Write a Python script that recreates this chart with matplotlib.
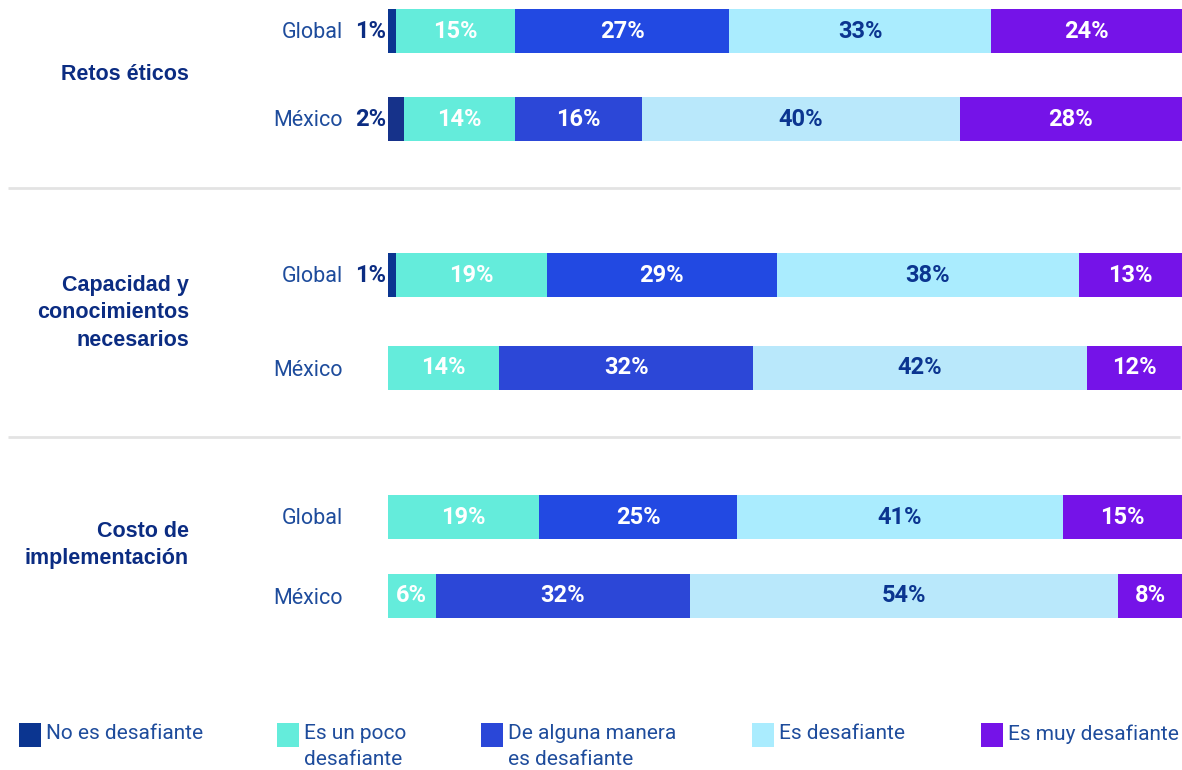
import matplotlib
matplotlib.use("Agg")
import matplotlib.pyplot as plt
from matplotlib.patches import Rectangle
import numpy as np

plt.rcParams['font.family'] = ['Roboto', 'DejaVu Sans']

# ---------------- data ----------------
groups = ["Retos éticos", "Capacidad y\nconocimientos\nnecesarios", "Costo de\nimplementación"]
regions = ["Global", "México"]
categories = ["No es desafiante", "Es un poco desafiante", "De alguna manera es desafiante",
              "Es desafiante", "Es muy desafiante"]
legend_labels = ["No es desafiante", "Es un poco\ndesafiante", "De alguna manera\nes desafiante",
                 "Es desafiante", "Es muy desafiante"]

retos_global = [1, 15, 27, 33, 24]
retos_mexico = [2, 14, 16, 40, 28]
capacidad_global = [1, 19, 29, 38, 13]
capacidad_mexico = [0, 14, 32, 42, 12]
costo_global = [0, 19, 25, 41, 15]
costo_mexico = [0, 6, 32, 54, 8]

rows = [retos_global, retos_mexico, capacidad_global, capacidad_mexico, costo_global, costo_mexico]
row_regions = ["Global", "México", "Global", "México", "Global", "México"]

# ---------------- style ----------------
W, H = 1182, 770
colors_global = ["#0b3590", "#64ecdb", "#2249e2", "#aaecfe", "#7513e8"]
colors_mexico = ["#16328a", "#64ecdb", "#2c47d7", "#b9e8fb", "#7513e8"]
legend_colors = ["#0b3590", "#64ecdb", "#2a47d8", "#aaecfe", "#7513e8"]
text_colors = ["white", "white", "white", "#0b3590", "white"]
navy = "#0b2c82"
label_blue = "#1e4c9c"

row_y = [31, 119, 275, 368, 517, 596]     # bar centres in pixels (layout)
bar_h = 44
group_y = [74, 313, 545]
sep_y = [188, 437]
bar_left_px = 388

fig = plt.figure(figsize=(W / 100, H / 100), dpi=100)
ax = fig.add_axes([bar_left_px / W, 0, (W - bar_left_px) / W, 1])
ax.set_xlim(0, 100)
ax.set_ylim(H, 0)
ax.axis("off")

ov = fig.add_axes([0, 0, 1, 1], zorder=5)
ov.set_xlim(0, W)
ov.set_ylim(H, 0)
ov.axis("off")
ov.patch.set_alpha(0)

for vals, y, reg in zip(rows, row_y, row_regions):
    cols = colors_global if reg == "Global" else colors_mexico
    left = 0
    for i, v in enumerate(vals):
        if v > 0:
            ax.barh(y, v, left=left, height=bar_h, color=cols[i], linewidth=0)
            if v >= 4:
                ax.text(left + v / 2, y, f"{v}%", ha="center", va="center",
                        fontsize=17, fontweight="bold", color=text_colors[i])
            else:
                ax.text(left - 0.25, y, f"{v}%", ha="right", va="center",
                        fontsize=17, fontweight="bold", color=navy)
        left += v
    ov.text(343, y + 2, reg, ha="right", va="center", fontsize=15.5, color=label_blue)

for g, y in zip(groups, group_y):
    ov.text(189, y, g, ha="right", va="center", fontsize=15.5, fontweight="bold",
            color=navy, linespacing=1.42, family=["Liberation Sans", "DejaVu Sans"])

for y in sep_y:
    ov.plot([8, 1180], [y, y], color="#e3e3e3", linewidth=2, solid_capstyle="butt")

legend_x = [19, 277, 481, 752, 981]
for x, lab, c in zip(legend_x, legend_labels, legend_colors):
    ov.add_patch(Rectangle((x, 723), 22, 24, color=c, linewidth=0))
    ov.text(x + 27, 724, lab, ha="left", va="top", fontsize=15, color=label_blue,
            linespacing=1.45)

fig.savefig("out.png", dpi=100)
